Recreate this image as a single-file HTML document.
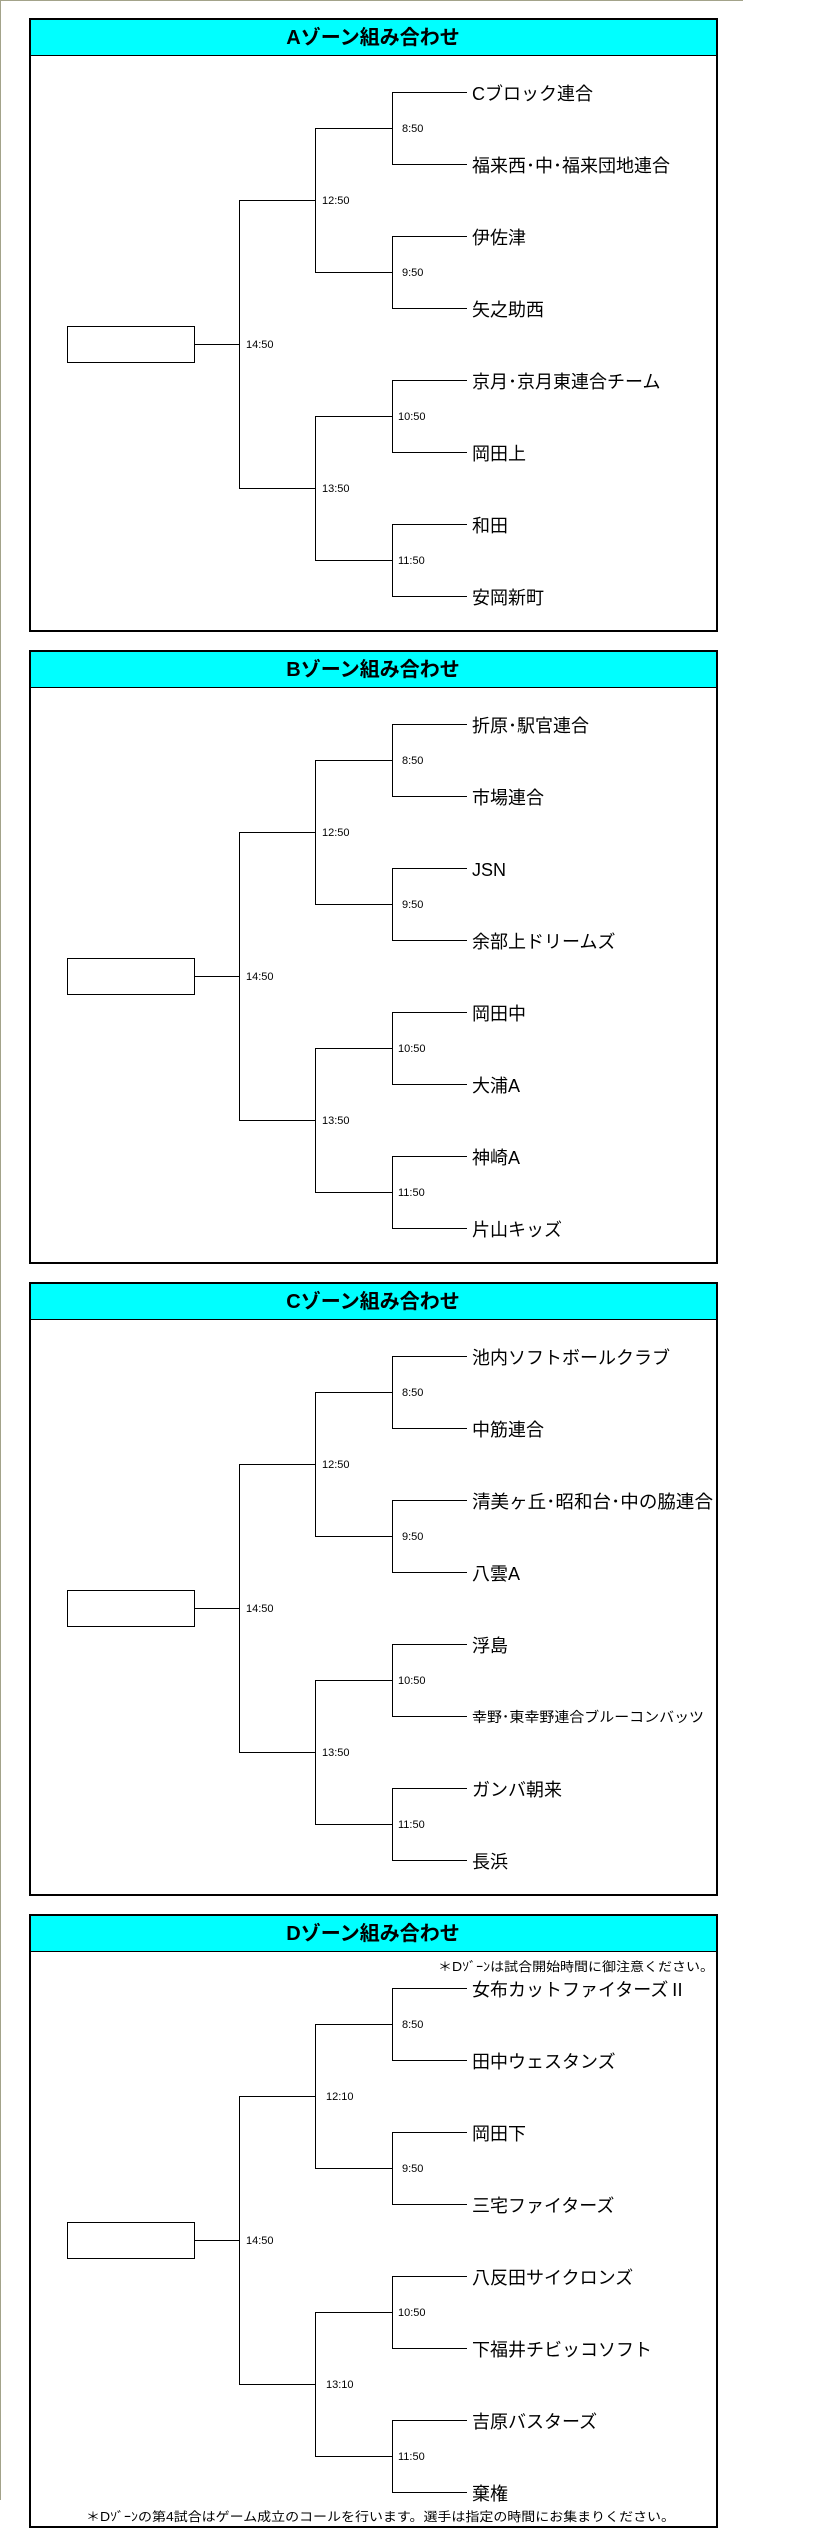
<!DOCTYPE html>
<html><head><meta charset="utf-8"><style>
html,body{margin:0;padding:0;background:#fff;}
svg{display:block;}
.t{font-family:"Liberation Sans","Noto Sans CJK JP",sans-serif;font-size:18px;fill:#000;}
.tm{font-family:"Liberation Sans",sans-serif;font-size:11px;fill:#000;}
.h{font-family:"Liberation Sans","Noto Sans CJK JP",sans-serif;font-size:20px;font-weight:bold;fill:#000;}
.n{font-family:"Liberation Sans","Noto Sans CJK JP",sans-serif;font-size:12.5px;fill:#000;}
</style></head><body>
<svg width="823" height="2547" viewBox="0 0 823 2547" xmlns="http://www.w3.org/2000/svg">
<defs>
<g id="br" fill="none" stroke="#000" stroke-width="1" shape-rendering="crispEdges">
<rect x="30" y="1" width="687" height="612" fill="#fff" stroke-width="2"/>
<rect x="30" y="1" width="687" height="36" fill="#00ffff" stroke="none"/>
<line x1="30" y1="37.5" x2="717" y2="37.5"/>
<rect x="30" y="1" width="687" height="612" fill="none" stroke-width="2"/>
<rect x="67.5" y="308.5" width="127" height="36"/>
<line x1="194" y1="326.5" x2="239.5" y2="326.5"/>
<line x1="239.5" y1="182.5" x2="239.5" y2="470.5"/>
<line x1="239" y1="182.5" x2="315.5" y2="182.5"/>
<line x1="239" y1="470.5" x2="315.5" y2="470.5"/>
<line x1="315.5" y1="110.5" x2="315.5" y2="254.5"/>
<line x1="315.5" y1="398.5" x2="315.5" y2="542.5"/>
<line x1="315" y1="110.5" x2="392.5" y2="110.5"/>
<line x1="315" y1="254.5" x2="392.5" y2="254.5"/>
<line x1="315" y1="398.5" x2="392.5" y2="398.5"/>
<line x1="315" y1="542.5" x2="392.5" y2="542.5"/>
<line x1="392.5" y1="74.5" x2="392.5" y2="146.5"/>
<line x1="392.5" y1="218.5" x2="392.5" y2="290.5"/>
<line x1="392.5" y1="362.5" x2="392.5" y2="434.5"/>
<line x1="392.5" y1="506.5" x2="392.5" y2="578.5"/>
<line x1="392" y1="74.5" x2="467" y2="74.5"/>
<line x1="392" y1="146.5" x2="467" y2="146.5"/>
<line x1="392" y1="218.5" x2="467" y2="218.5"/>
<line x1="392" y1="290.5" x2="467" y2="290.5"/>
<line x1="392" y1="362.5" x2="467" y2="362.5"/>
<line x1="392" y1="434.5" x2="467" y2="434.5"/>
<line x1="392" y1="506.5" x2="467" y2="506.5"/>
<line x1="392" y1="578.5" x2="467" y2="578.5"/>
</g>
</defs>
<line x1="0" y1="0.5" x2="743" y2="0.5" stroke="#a3a38a" stroke-width="1"/>
<line x1="0.5" y1="0" x2="0.5" y2="2500" stroke="#a3a38a" stroke-width="1"/>

<!-- A -->
<g transform="translate(0,18)">
<use href="#br"/>
<text class="h" x="373" y="26" text-anchor="middle">Aゾーン組み合わせ</text>
<text class="tm" x="402" y="114">8:50</text>
<text class="tm" x="402" y="258">9:50</text>
<text class="tm" x="398" y="402">10:50</text>
<text class="tm" x="398" y="546">11:50</text>
<text class="tm" x="322" y="186">12:50</text>
<text class="tm" x="322" y="474">13:50</text>
<text class="tm" x="246" y="330">14:50</text>
<text class="t" x="472" y="82">Cブロック連合</text>
<text class="t" x="472" y="154">福来西･中･福来団地連合</text>
<text class="t" x="472" y="226">伊佐津</text>
<text class="t" x="472" y="298">矢之助西</text>
<text class="t" x="472" y="370">京月･京月東連合チーム</text>
<text class="t" x="472" y="442">岡田上</text>
<text class="t" x="472" y="514">和田</text>
<text class="t" x="472" y="586">安岡新町</text>
</g>

<!-- B -->
<g transform="translate(0,650)">
<use href="#br"/>
<text class="h" x="373" y="26" text-anchor="middle">Bゾーン組み合わせ</text>
<text class="tm" x="402" y="114">8:50</text>
<text class="tm" x="402" y="258">9:50</text>
<text class="tm" x="398" y="402">10:50</text>
<text class="tm" x="398" y="546">11:50</text>
<text class="tm" x="322" y="186">12:50</text>
<text class="tm" x="322" y="474">13:50</text>
<text class="tm" x="246" y="330">14:50</text>
<text class="t" x="472" y="82">折原･駅官連合</text>
<text class="t" x="472" y="154">市場連合</text>
<text class="t" x="472" y="226">JSN</text>
<text class="t" x="472" y="298">余部上ドリームズ</text>
<text class="t" x="472" y="370">岡田中</text>
<text class="t" x="472" y="442">大浦A</text>
<text class="t" x="472" y="514">神崎A</text>
<text class="t" x="472" y="586">片山キッズ</text>
</g>

<!-- C -->
<g transform="translate(0,1282)">
<use href="#br"/>
<text class="h" x="373" y="26" text-anchor="middle">Cゾーン組み合わせ</text>
<text class="tm" x="402" y="114">8:50</text>
<text class="tm" x="402" y="258">9:50</text>
<text class="tm" x="398" y="402">10:50</text>
<text class="tm" x="398" y="546">11:50</text>
<text class="tm" x="322" y="186">12:50</text>
<text class="tm" x="322" y="474">13:50</text>
<text class="tm" x="246" y="330">14:50</text>
<text class="t" x="472" y="82">池内ソフトボールクラブ</text>
<text class="t" x="472" y="154">中筋連合</text>
<text class="t" x="472" y="226" textLength="241" lengthAdjust="spacingAndGlyphs">清美ヶ丘･昭和台･中の脇連合</text>
<text class="t" x="472" y="298">八雲A</text>
<text class="t" x="472" y="370">浮島</text>
<text class="t" x="472" y="440" style="font-size:14px" textLength="232" lengthAdjust="spacingAndGlyphs">幸野･東幸野連合ブルーコンバッツ</text>
<text class="t" x="472" y="514">ガンバ朝来</text>
<text class="t" x="472" y="586">長浜</text>
</g>

<!-- D -->
<g transform="translate(0,1914)">
<use href="#br"/>
<text class="h" x="373" y="26" text-anchor="middle">Dゾーン組み合わせ</text>
<text class="n" x="714" y="57" text-anchor="end" textLength="276" lengthAdjust="spacingAndGlyphs">＊Dｿﾞｰﾝは試合開始時間に御注意ください。</text>
<text class="tm" x="402" y="114">8:50</text>
<text class="tm" x="402" y="258">9:50</text>
<text class="tm" x="398" y="402">10:50</text>
<text class="tm" x="398" y="546">11:50</text>
<text class="tm" x="326" y="186">12:10</text>
<text class="tm" x="326" y="474">13:10</text>
<text class="tm" x="246" y="330">14:50</text>
<text class="t" x="472" y="82">女布カットファイターズⅡ</text>
<text class="t" x="472" y="154">田中ウェスタンズ</text>
<text class="t" x="472" y="226">岡田下</text>
<text class="t" x="472" y="298">三宅ファイターズ</text>
<text class="t" x="472" y="370">八反田サイクロンズ</text>
<text class="t" x="472" y="442">下福井チビッコソフト</text>
<text class="t" x="472" y="514">吉原バスターズ</text>
<text class="t" x="472" y="586">棄権</text>
<text class="n" x="86" y="607" textLength="589" lengthAdjust="spacingAndGlyphs">＊Dｿﾞｰﾝの第4試合はゲーム成立のコールを行います。選手は指定の時間にお集まりください。</text>
</g>
</svg>
</body></html>
